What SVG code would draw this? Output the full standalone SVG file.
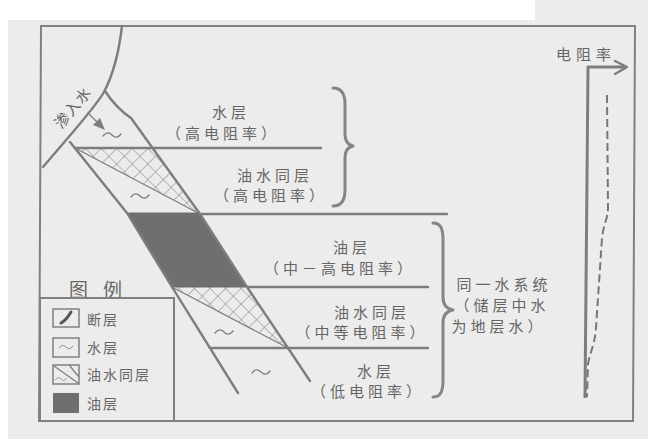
<svg xmlns="http://www.w3.org/2000/svg" width="648" height="439" viewBox="0 0 648 439">
  <defs>
    <style>
      .ln { fill: none; stroke: #7d7d7d; stroke-width: 2.4; stroke-linecap: round; stroke-linejoin: round; }
      .thin { fill: none; stroke: #7d7d7d; stroke-width: 1.3; stroke-linecap: round; }
      .brace { fill: none; stroke: #858585; stroke-width: 3; stroke-linecap: round; stroke-linejoin: round; }
      .oil { fill: #6f6f6f; stroke: #6f6f6f; stroke-width: 1; }
      .hatch { fill: url(#cross); stroke: none; }
      .t { font-family: "Noto Sans CJK SC", "Noto Sans", sans-serif; font-size: 15px; fill: #666666; letter-spacing: 4px; text-anchor: middle; }
      .lg { font-family: "Noto Sans CJK SC", "Noto Sans", sans-serif; font-size: 14px; fill: #666666; letter-spacing: 2px; }
    </style>
    <pattern id="cross" width="11" height="11" patternUnits="userSpaceOnUse" patternTransform="rotate(45)">
      <path d="M0,0 H11 M0,0 V11" stroke="#858585" stroke-width="1.1" fill="none"/>
    </pattern>
    <path id="tilde" d="M-9,1 C-6,-3 -3,-3 0,0 C3,3 6,3 9,-1" fill="none" stroke="#7d7d7d" stroke-width="1.3" stroke-linecap="round"/>
  </defs>

  <!-- paper -->
  <rect x="0" y="0" width="648" height="439" fill="#ffffff"/>
  <rect x="8" y="20" width="640" height="419" fill="#ececec"/>
  <rect x="535" y="0" width="113" height="20" fill="#ececec"/>

  <!-- outer frame -->
  <polygon points="41,26 635,26 633,421 39,421" fill="none" stroke="#808080" stroke-width="2"/>

  <!-- section: layers between the faults -->
  <g id="layer-hatch-upper">
    <polygon class="hatch" points="75,148 152,148 200,214"/>
    <path class="thin" d="M75,148 L200,214"/>
  </g>
  <g id="layer-oil">
    <polygon class="oil" points="127,213 200,213 247,287 172,287"/>
  </g>
  <g id="layer-hatch-lower">
    <polygon class="hatch" points="172,287 247,287 288,348"/>
    <path class="thin" d="M172,287 L288,348"/>
  </g>
  <g id="water-marks">
    <use href="#tilde" x="112" y="135"/>
    <use href="#tilde" x="140" y="196"/>
    <use href="#tilde" x="224" y="332"/>
    <use href="#tilde" x="261" y="372"/>
  </g>

  <!-- faults and layer boundaries -->
  <g id="connectors">
    <path class="ln" d="M122,26 C119,52 113,75 104,92 C95,108 70,135 43,167"/>
    <path class="ln" d="M105,91 Q116,108 131,118 L200,214 L247,287 L288,348 L310,381"/>
    <path class="ln" d="M70,142 L127,213 L172,287 L238,393"/>
    <path class="ln" d="M75,148 L321,148"/>
    <path class="ln" d="M200,214 L447,214"/>
    <path class="ln" d="M247,287 L428,287"/>
    <path class="ln" d="M210,348 L428,348"/>
    <!-- inflow arrow -->
    <path class="thin" d="M88,113 L98,123" stroke-width="2"/>
    <polygon points="105,130 93,125 100,118" fill="#7d7d7d"/>
  </g>

  <g id="label-inflow">
    <text class="t" transform="translate(77,111) rotate(-50)" style="letter-spacing:1px">渗入水</text>
  </g>

  <!-- upper group labels -->
  <g id="label-water-high">
    <text class="t" x="231" y="118">水层</text>
    <text class="t" x="223" y="139">（高电阻率）</text>
  </g>
  <g id="label-mixed-high">
    <text class="t" x="275" y="181">油水同层</text>
    <text class="t" x="271" y="201">（高电阻率）</text>
  </g>
  <g id="brace-upper">
    <path class="brace" d="M333,88 C342,88 345,94 345,104 L345,134 C345,142 348,145 353,146 C348,147 345,150 345,158 L345,190 C345,200 342,206 333,206"/>
  </g>

  <!-- lower group labels -->
  <g id="label-oil">
    <text class="t" x="352" y="253">油层</text>
    <text class="t" x="340" y="274">（中－高电阻率）</text>
  </g>
  <g id="label-mixed-mid">
    <text class="t" x="372" y="318">油水同层</text>
    <text class="t" x="362" y="338">（中等电阻率）</text>
  </g>
  <g id="label-water-low">
    <text class="t" x="376" y="377">水层</text>
    <text class="t" x="368" y="397">（低电阻率）</text>
  </g>
  <g id="brace-lower">
    <path class="brace" d="M433,223 C441,223 443,229 443,240 L443,297 C443,305 447,309 453,310 C447,311 443,315 443,323 L443,380 C443,391 441,397 433,397"/>
  </g>
  <g id="label-system">
    <text class="t" x="504" y="290">同一水系统</text>
    <text class="t" x="502" y="311">（储层中水</text>
    <text class="t" x="499" y="332">为地层水）</text>
  </g>

  <!-- resistivity log -->
  <g id="log-axis">
    <text class="t" x="586" y="60" style="letter-spacing:5px">电阻率</text>
    <path d="M585,398 L588,67 L626,67" fill="none" stroke="#7d7d7d" stroke-width="3" stroke-linejoin="round"/>
    <path d="M615,61 L627,67 L615,74" fill="none" stroke="#7d7d7d" stroke-width="2.4" stroke-linecap="round" stroke-linejoin="round"/>
  </g>
  <g id="log-curve">
    <path d="M607,95 L608,208 C608,218 603,226 602,238 L596,328 C595,344 590,352 588,364 L587,397" fill="none" stroke="#777777" stroke-width="2" stroke-dasharray="8 4"/>
  </g>

  <!-- legend -->
  <g id="legend">
    <text x="70" y="297" font-family="Noto Sans CJK SC, Noto Sans, sans-serif" font-size="19" fill="#666666"><tspan x="69">图</tspan><tspan x="103">例</tspan></text>
    <rect x="40" y="298" width="134" height="123" fill="none" stroke="#808080" stroke-width="2"/>
  </g>
  <g id="legend-fault">
    <rect x="53" y="309" width="26" height="18" fill="none" stroke="#808080" stroke-width="1.5"/>
    <path d="M61,323 C65,321 68,317 71,312" fill="none" stroke="#555555" stroke-width="3" stroke-linecap="round"/>
    <text class="lg" x="87" y="325">断层</text>
  </g>
  <g id="legend-water">
    <rect x="53" y="338" width="26" height="19" fill="none" stroke="#808080" stroke-width="1.5"/>
    <use href="#tilde" x="66" y="347" transform="translate(66,347) scale(0.75) translate(-66,-347)"/>
    <text class="lg" x="87" y="353">水层</text>
  </g>
  <g id="legend-mixed">
    <rect x="53" y="365" width="26" height="19" fill="none" stroke="#808080" stroke-width="1.5"/>
    <path class="thin" d="M54,366 L78,383 M70,366 L78,376"/>
    <use href="#tilde" x="61" y="379" transform="translate(61,379) scale(0.6) translate(-61,-379)"/>
    <text class="lg" x="87" y="380">油水同层</text>
  </g>
  <g id="legend-oil">
    <rect x="53" y="393" width="26" height="20" fill="#6f6f6f"/>
    <text class="lg" x="87" y="409">油层</text>
  </g>
</svg>
